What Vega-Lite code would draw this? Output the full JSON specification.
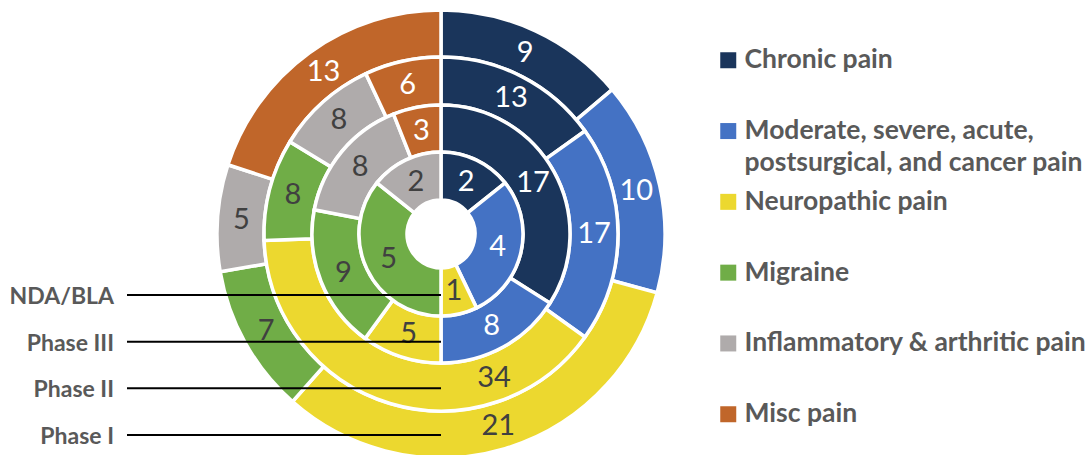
{
  "$schema": "https://vega.github.io/schema/vega-lite/v6.json",
  "width": 882,
  "height": 455,
  "padding": 0,
  "autosize": {"type": "pad"},
  "background": "white",
  "config": {"view": {"stroke": null}, "font": "Lato", "style": {"guide-label": {"lineHeight": 32}}},
  "datasets": {
    "counts": [
      {"phase": "NDA/BLA", "cat": "Chronic pain", "k": 1, "n": 2},
      {"phase": "NDA/BLA", "cat": "Moderate, severe, acute, postsurgical, and cancer pain", "k": 2, "n": 4},
      {"phase": "NDA/BLA", "cat": "Neuropathic pain", "k": 3, "n": 1},
      {"phase": "NDA/BLA", "cat": "Migraine", "k": 4, "n": 5},
      {"phase": "NDA/BLA", "cat": "Inflammatory & arthritic pain", "k": 5, "n": 2},
      {"phase": "Phase III", "cat": "Chronic pain", "k": 1, "n": 17},
      {"phase": "Phase III", "cat": "Moderate, severe, acute, postsurgical, and cancer pain", "k": 2, "n": 8},
      {"phase": "Phase III", "cat": "Neuropathic pain", "k": 3, "n": 5},
      {"phase": "Phase III", "cat": "Migraine", "k": 4, "n": 9},
      {"phase": "Phase III", "cat": "Inflammatory & arthritic pain", "k": 5, "n": 8},
      {"phase": "Phase III", "cat": "Misc pain", "k": 6, "n": 3},
      {"phase": "Phase II", "cat": "Chronic pain", "k": 1, "n": 13},
      {"phase": "Phase II", "cat": "Moderate, severe, acute, postsurgical, and cancer pain", "k": 2, "n": 17},
      {"phase": "Phase II", "cat": "Neuropathic pain", "k": 3, "n": 34},
      {"phase": "Phase II", "cat": "Migraine", "k": 4, "n": 8},
      {"phase": "Phase II", "cat": "Inflammatory & arthritic pain", "k": 5, "n": 8},
      {"phase": "Phase II", "cat": "Misc pain", "k": 6, "n": 6},
      {"phase": "Phase I", "cat": "Chronic pain", "k": 1, "n": 9},
      {"phase": "Phase I", "cat": "Moderate, severe, acute, postsurgical, and cancer pain", "k": 2, "n": 10},
      {"phase": "Phase I", "cat": "Neuropathic pain", "k": 3, "n": 21},
      {"phase": "Phase I", "cat": "Migraine", "k": 4, "n": 7},
      {"phase": "Phase I", "cat": "Inflammatory & arthritic pain", "k": 5, "n": 5},
      {"phase": "Phase I", "cat": "Misc pain", "k": 6, "n": 13}
    ],
    "phases": [
      {"phase": "NDA/BLA"},
      {"phase": "Phase III"},
      {"phase": "Phase II"},
      {"phase": "Phase I"}
    ]
  },
  "layer": [
    {
      "data": {"name": "counts"},
      "transform": [{"filter": "datum.phase == 'Phase I'"}],
      "mark": {"type": "arc", "outerRadius": 224, "innerRadius": 177, "stroke": "white", "strokeWidth": 3.5, "yOffset": 6.5, "clip": true},
      "encoding": {
        "theta": {"field": "n", "type": "quantitative", "stack": "normalize"},
        "order": {"field": "k", "type": "quantitative"},
        "color": {
          "field": "cat", "type": "nominal",
          "scale": {
            "domain": ["Chronic pain", "Moderate, severe, acute, postsurgical, and cancer pain", "Neuropathic pain", "Migraine", "Inflammatory & arthritic pain", "Misc pain"],
            "range": ["#1A355B", "#4472C4", "#ECD82F", "#70AD47", "#AFABAB", "#C0662A"]
          },
          "legend": {
            "orient": "none", "legendX": 715, "legendY": 47, "title": null,
            "symbolType": "square", "symbolSize": 256, "symbolStrokeWidth": 0, "symbolOpacity": 1,
            "labelFont": "Lato", "labelFontWeight": "bold", "labelFontSize": 26.5, "labelColor": "#595959",
            "labelOffset": 3, "labelLimit": 0, "rowPadding": 11.8, "padding": 0,
            "labelExpr": "datum.label == 'Moderate, severe, acute, postsurgical, and cancer pain' ? ['Moderate, severe, acute,', 'postsurgical, and cancer pain'] : [datum.label, '']"
          }
        }
      }
    },
    {
      "data": {"name": "counts"},
      "transform": [{"filter": "datum.phase == 'Phase II'"}],
      "mark": {"type": "arc", "outerRadius": 177, "innerRadius": 129, "stroke": "white", "strokeWidth": 3.5, "yOffset": 6.5},
      "encoding": {
        "theta": {"field": "n", "type": "quantitative", "stack": "normalize"},
        "order": {"field": "k", "type": "quantitative"},
        "color": {"field": "cat", "type": "nominal"}
      }
    },
    {
      "data": {"name": "counts"},
      "transform": [{"filter": "datum.phase == 'Phase III'"}],
      "mark": {"type": "arc", "outerRadius": 129, "innerRadius": 82, "stroke": "white", "strokeWidth": 3.5, "yOffset": 6.5},
      "encoding": {
        "theta": {"field": "n", "type": "quantitative", "stack": "normalize"},
        "order": {"field": "k", "type": "quantitative"},
        "color": {"field": "cat", "type": "nominal"}
      }
    },
    {
      "data": {"name": "counts"},
      "transform": [{"filter": "datum.phase == 'NDA/BLA'"}],
      "mark": {"type": "arc", "outerRadius": 82, "innerRadius": 34, "stroke": "white", "strokeWidth": 3.5, "yOffset": 6.5},
      "encoding": {
        "theta": {"field": "n", "type": "quantitative", "stack": "normalize"},
        "order": {"field": "k", "type": "quantitative"},
        "color": {"field": "cat", "type": "nominal"}
      }
    },
    {
      "data": {"name": "counts"},
      "transform": [{"filter": "datum.phase == 'Phase I'"}],
      "mark": {"type": "text", "radius": 200, "fontSize": 29, "font": "Lato", "yOffset": 6.5},
      "encoding": {
        "theta": {"field": "n", "type": "quantitative", "stack": "normalize"},
        "order": {"field": "k", "type": "quantitative"},
        "text": {"field": "n", "type": "quantitative"},
        "color": {"condition": {"test": "datum.k == 1 || datum.k == 2 || datum.k == 6", "value": "white"}, "value": "#404040"}
      }
    },
    {
      "data": {"name": "counts"},
      "transform": [{"filter": "datum.phase == 'Phase II'"}],
      "mark": {"type": "text", "radius": 153, "fontSize": 29, "font": "Lato", "yOffset": 6.5},
      "encoding": {
        "theta": {"field": "n", "type": "quantitative", "stack": "normalize"},
        "order": {"field": "k", "type": "quantitative"},
        "text": {"condition": {"test": "datum.k == 3", "value": ""}, "field": "n", "type": "quantitative"},
        "color": {"condition": {"test": "datum.k == 1 || datum.k == 2 || datum.k == 6", "value": "white"}, "value": "#404040"}
      }
    },
    {
      "data": {"name": "counts"},
      "transform": [{"filter": "datum.phase == 'Phase II'"}],
      "mark": {"type": "text", "radius": 153, "fontSize": 29, "font": "Lato", "yOffset": 6.5, "thetaOffset": -0.646},
      "encoding": {
        "theta": {"field": "n", "type": "quantitative", "stack": "normalize"},
        "order": {"field": "k", "type": "quantitative"},
        "text": {"condition": {"test": "datum.k != 3", "value": ""}, "field": "n", "type": "quantitative"},
        "color": {"value": "#404040"}
      }
    },
    {
      "data": {"name": "counts"},
      "transform": [{"filter": "datum.phase == 'Phase III'"}],
      "mark": {"type": "text", "radius": 105, "fontSize": 29, "font": "Lato", "yOffset": 6.5},
      "encoding": {
        "theta": {"field": "n", "type": "quantitative", "stack": "normalize"},
        "order": {"field": "k", "type": "quantitative"},
        "text": {"field": "n", "type": "quantitative"},
        "color": {"condition": {"test": "datum.k == 1 || datum.k == 2 || datum.k == 6", "value": "white"}, "value": "#404040"}
      }
    },
    {
      "data": {"name": "counts"},
      "transform": [{"filter": "datum.phase == 'NDA/BLA'"}],
      "mark": {"type": "text", "radius": 58, "fontSize": 29, "font": "Lato", "yOffset": 6.5},
      "encoding": {
        "theta": {"field": "n", "type": "quantitative", "stack": "normalize"},
        "order": {"field": "k", "type": "quantitative"},
        "text": {"field": "n", "type": "quantitative"},
        "color": {"condition": {"test": "datum.k == 1 || datum.k == 2 || datum.k == 6", "value": "white"}, "value": "#404040"}
      }
    },
    {
      "data": {"name": "phases"},
      "mark": {"type": "rule", "color": "black", "strokeWidth": 2},
      "encoding": {
        "x": {"datum": -314, "type": "quantitative", "scale": {"domain": [-441, 441], "nice": false, "zero": false}, "axis": null},
        "x2": {"datum": 0},
        "y": {"field": "phase", "type": "ordinal", "scale": {"type": "point", "domain": ["NDA/BLA", "Phase III", "Phase II", "Phase I"], "range": [295, 435], "padding": 0}, "axis": null}
      }
    },
    {
      "data": {"name": "phases"},
      "mark": {"type": "text", "align": "right", "baseline": "middle", "font": "Lato", "fontWeight": "bold", "fontSize": 23, "color": "#595959", "dy": 2},
      "encoding": {
        "x": {"datum": -327, "type": "quantitative"},
        "y": {"field": "phase", "type": "ordinal"},
        "text": {"field": "phase"}
      }
    }
  ]
}
